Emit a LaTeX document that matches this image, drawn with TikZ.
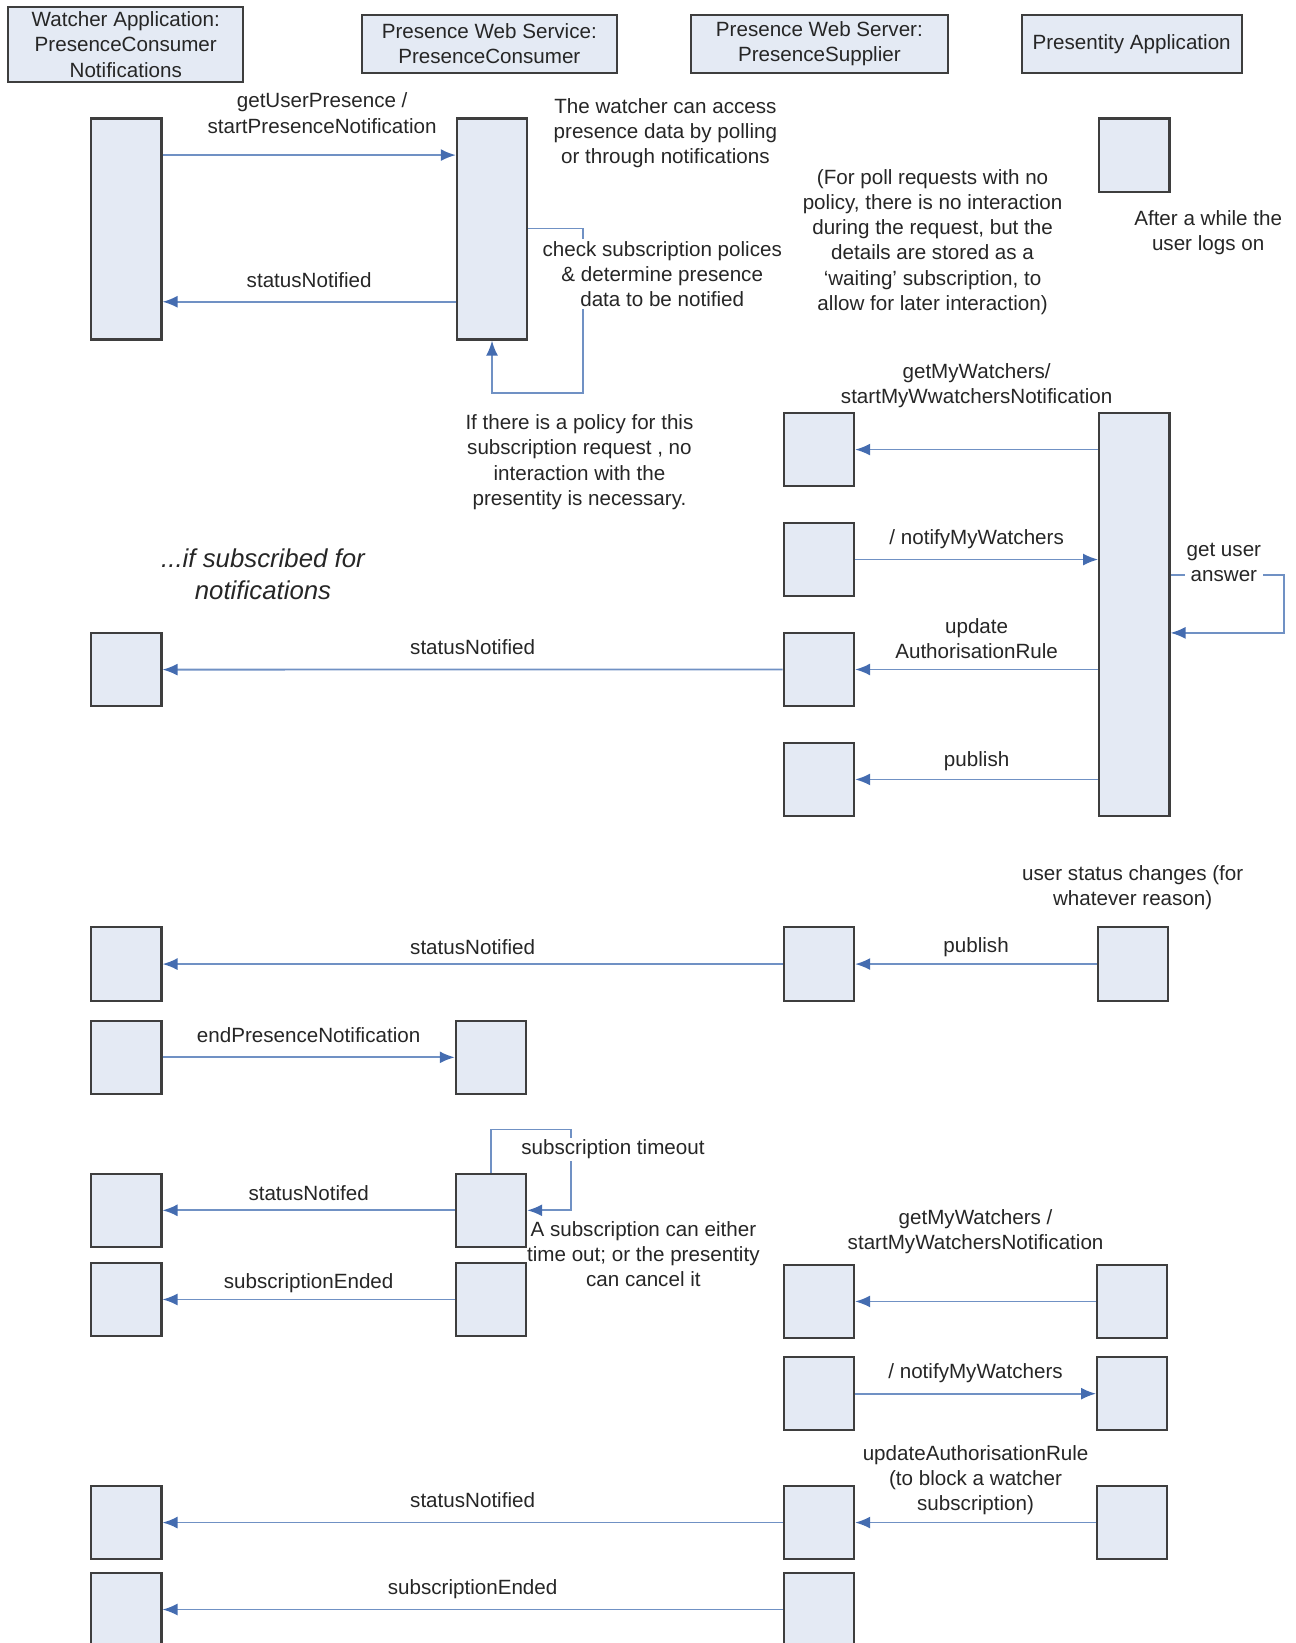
\documentclass[tikz,border=0pt]{standalone}
\usepackage{fontspec}
\setmainfont{Liberation Sans}
\usepackage{tikz}
\usetikzlibrary{positioning, arrows.meta}
\definecolor{BoxFill}{RGB}{228,234,244}
\definecolor{BoxLine}{RGB}{62,62,62}
\definecolor{MsgLine}{RGB}{112,145,196}
\definecolor{MsgHead}{RGB}{68,108,176}
\definecolor{TextGray}{RGB}{38,38,38}
\newcommand{\unitpx}{0.5238pt}
\tikzset{HeadBox/.style={%
    shape=rectangle,%
    draw=BoxLine,%
    fill=BoxFill,%
    line width=1pt,%
    align=center,%
    minimum height=56*\unitpx,%
    inner sep=1pt,%
}}
\tikzset{ActBox/.style={%
    shape=rectangle,%
    draw=BoxLine,%
    fill=BoxFill,%
    line width=1.1pt,%
    minimum width=67*\unitpx,%
    minimum height=70*\unitpx,%
    inner sep=0pt,%
    anchor=north west,%
}}
\tikzset{ActLong/.style={%
    ActBox,%
    minimum height=211*\unitpx,%
}}
\tikzset{ActTall/.style={%
    ActBox,%
    minimum height=385*\unitpx,%
}}
\tikzset{Msg/.style={%
    draw=MsgLine,%
    line width=0.9pt,%
    -{Latex[length=7.5pt,width=6pt,color=MsgHead]},%
}}
\tikzset{MsgLabel/.style={%
    above=2.4pt,%
    align=center,%
    text depth=0.25em,%
    inner sep=2pt,%
}}
\tikzset{NoteText/.style={%
    align=center,%
    inner sep=1pt,%
}}
\NewDocumentCommand{\noteItalic}{m}{%
    \fontsize{12.9}{15.7}\selectfont\itshape #1%
}

\begin{document}
\begin{tikzpicture}[x=\unitpx, y=-\unitpx, font=\fontsize{10.3}{12.6}\selectfont, text=TextGray]
    \useasboundingbox (0,0) rectangle (1236,1568);
    \clip (0,0) rectangle (1236,1568);

    % lifeline heads
    \node[HeadBox, minimum width=224*\unitpx, minimum height=71*\unitpx] (hWatcher) at (120,42.5) {Watcher Application:\\PresenceConsumer\\Notifications};
    \node[HeadBox, minimum width=244*\unitpx] (hService) at (467,42) {Presence Web Service:\\PresenceConsumer};
    \node[HeadBox, minimum width=246*\unitpx] (hServer) at (782,42) {Presence Web Server:\\PresenceSupplier};
    \node[HeadBox, minimum width=210*\unitpx] (hPresentity) at (1080,42) {Presentity Application};

    % activations
    \node[ActLong] (a1) at (86,112) {};
    \node[ActLong] (b1) at (435,112) {};
    \node[ActBox] (d1) at (1048,112) {};
    \node[ActBox] (c2) at (747,393) {};
    \node[ActTall] (d2) at (1048,393) {};
    \node[ActBox, below=17.2pt of c2] (c3) {};
    \node[ActBox, below=17.2pt of c3] (c4) {};
    \node[ActBox, below=17.2pt of c4] (c5) {};
    \node[ActBox] (a4) at (86,603) {};
    \node[ActBox] (a6) at (86,884) {};
    \node[ActBox] (c6) at (747,884) {};
    \node[ActBox] (d6) at (1047,884) {};
    \node[ActBox] (a7) at (86,973) {};
    \node[ActBox] (b7) at (434,973) {};
    \node[ActBox] (a8) at (86,1119) {};
    \node[ActBox] (b8) at (434,1119) {};
    \node[ActBox, below=6.8pt of a8] (a9) {};
    \node[ActBox, below=6.8pt of b8] (b9) {};
    \node[ActBox] (c10) at (747,1206) {};
    \node[ActBox] (d10) at (1046,1206) {};
    \node[ActBox] (c11) at (747,1294) {};
    \node[ActBox] (d11) at (1046,1294) {};
    \node[ActBox] (a12) at (86,1417) {};
    \node[ActBox] (c12) at (747,1417) {};
    \node[ActBox] (d12) at (1046,1417) {};
    \node[ActBox] (a13) at (86,1500) {};
    \node[ActBox] (c13) at (747,1500) {};

    \coordinate (mGet) at (0,148);
    \coordinate (mCheck) at (0,218);
    \coordinate (mNotify) at (0,288);
    \coordinate (mAsk) at (0,549);
    \coordinate (mAnswer) at (0,604);

    % subscription
    \path (a1.east |- mGet) edge[Msg] node[MsgLabel, above=6pt, xshift=6.5pt]{getUserPresence /\\startPresenceNotification} (b1.west |- mGet);
    \path (b1.west |- mNotify) edge[Msg] node[MsgLabel]{statusNotified} (a1.east |- mNotify);
    \draw[Msg] (b1.east |- mCheck) -- ++(52,0) -- ++(0,157) -| (b1.south);
    \node[NoteText, fill=white] (checkNote) at (632,261.5) {check subscription polices\\\& determine presence\\data to be notified};
    \node[NoteText] (accessNote) at (635,127) {The watcher can access\\presence data by polling\\or through notifications};
    \node[NoteText] (pollNote) at (890,231) {(For poll requests with no\\policy, there is no interaction\\during the request, but the\\details are stored as a\\`waiting' subscription, to\\allow for later interaction)};
    \node[NoteText] (logonNote) at (1153,222) {After a while the\\user logs on};
    \node[NoteText] (policyNote) at (553,441) {If there is a policy for this\\subscription request , no\\interaction with the\\presentity is necessary.};

    % presentity logs on
    \path (d2.west |- c2) edge[Msg] node[MsgLabel, above=18pt]{getMyWatchers/\\startMyWwatchersNotification} (c2.east);
    \path (c3.east) edge[Msg] node[MsgLabel]{/ notifyMyWatchers} (c3.east -| d2.west);
    \path (d2.west |- c4) edge[Msg] node[MsgLabel, above=0.5pt]{update\\AuthorisationRule} (c4.east);
    \path (c4) edge[Msg] node[MsgLabel]{statusNotified} (a4);
    \path (d2.west |- c5) edge[Msg] node[MsgLabel, above=1.5pt]{publish} (c5.east);
    \draw[Msg] (d2.east |- mAsk) -- ++(108,0) |- (d2.east |- mAnswer);
    \node[NoteText, fill=white] (answerNote) at (1168,536.5) {get user\\answer};
    \node[NoteText, font=\noteItalic{}] (subscribedNote) at (251,548) {...if subscribed for\\notifications};

    % status change and end
    \node[NoteText] (changeNote) at (1081,847.5) {user status changes (for\\whatever reason)};
    \path (d6) edge[Msg] node[MsgLabel, above=1pt]{publish} (c6);
    \path (c6) edge[Msg] node[MsgLabel, above=0pt]{statusNotified} (a6);
    \path (a7) edge[Msg] node[MsgLabel]{endPresenceNotification} (b7);

    % timeout or cancel
    \draw[Msg] (b8.north) -- ++(0,-41) -- ++(76,0) |- (b8.east);
    \node[NoteText, fill=white] (timeoutNote) at (585,1097) {subscription timeout};
    \path (b8) edge[Msg] node[MsgLabel, above=0pt]{statusNotifed} (a8);
    \path (b9) edge[Msg] node[MsgLabel, above=0.5pt]{subscriptionEnded} (a9);
    \node[NoteText] (cancelNote) at (614,1197) {A subscription can either\\time out; or the presentity\\can cancel it};
    \path (d10) edge[Msg] node[MsgLabel, above=21pt]{getMyWatchers /\\startMyWatchersNotification} (c10);
    \path (c11) edge[Msg] node[MsgLabel]{/ notifyMyWatchers} (d11);
    \path (d12) edge[Msg] node[MsgLabel, above=1pt]{updateAuthorisationRule\\(to block a watcher\\subscription)} (c12);
    \path (c12) edge[Msg] node[MsgLabel]{statusNotified} (a12);
    \path (c13) edge[Msg] node[MsgLabel]{subscriptionEnded} (a13);
\end{tikzpicture}
\end{document}
